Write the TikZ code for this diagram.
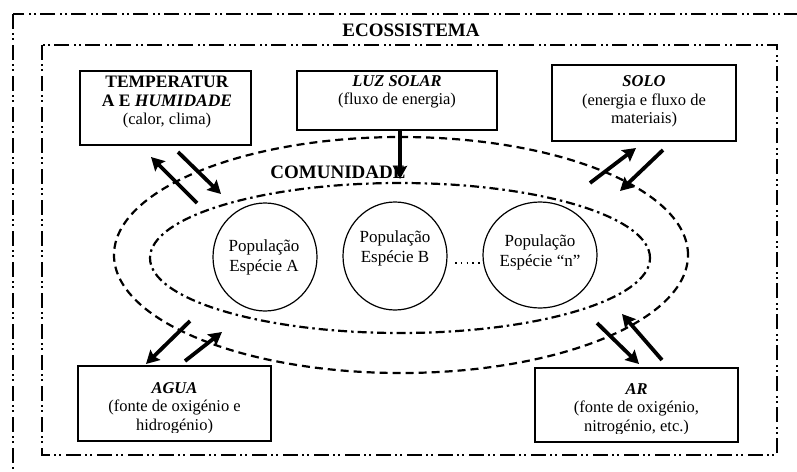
\documentclass[tikz,border=0pt]{standalone}
\usepackage{fontspec}
\setmainfont{Liberation Serif}
\usetikzlibrary{arrows.meta,shapes.geometric}

\tikzset{
  framerule/.style={line width=2.4pt,
    dash pattern=on 15pt off 4pt on 2pt off 3pt on 2pt off 5pt},
  factorbox/.style={draw, line width=1.2pt, rectangle, inner sep=0pt},
  boxtext/.style={align=center, inner sep=0pt,
    font=\fontsize{16.5}{18.5}\selectfont},
  poptext/.style={align=center, inner sep=0pt,
    font=\fontsize{17}{20}\selectfont},
  titletext/.style={inner sep=0pt, font=\fontsize{19}{21}\selectfont\bfseries},
  popshape/.style={draw, ellipse, line width=1.2pt, inner sep=0pt},
  commline/.style={draw, ellipse, inner sep=0pt, line width=2.2pt,
    dash pattern=on 8pt off 5pt},
  popline/.style={draw, ellipse, inner sep=0pt, line width=2.2pt,
    dash pattern=on 9pt off 4pt on 2.5pt off 4pt},
  flow/.style={line width=3.8pt,
    -{Stealth[length=13pt,width=14pt,inset=2pt]}},
}

\begin{document}
\begin{tikzpicture}[x=1pt,y=-1pt]
  \clip (0,0) rectangle (797,471);
  \fill[white] (0,0) rectangle (797,471);

  % ecosystem frames
  \draw[framerule] (13,14) rectangle (830,520);
  \draw[framerule, line width=2.2pt] (42,45) rectangle (777,455);
  \node[titletext] (ecos) at (411,30) {ECOSSISTEMA};

  % community and population ellipses
  \node[commline, minimum width=574pt, minimum height=236pt] (comm) at (401,255) {};
  \node[popline, minimum width=500pt, minimum height=150pt] (pops) at (400,258) {};
  \node[titletext] (commlabel) at (338,172) {COMUNIDADE};

  % populations
  \node[popshape, minimum width=104pt, minimum height=108pt] (popA) at (265,257) {};
  \node[popshape, minimum width=104pt, minimum height=108pt] (popB) at (395,256) {};
  \node[popshape, minimum width=114pt, minimum height=106pt] (popN) at (540,255) {};
  \node[poptext] (txtA) at (264,257) {População\\Espécie A};
  \node[poptext] (txtB) at (395,248) {População\\Espécie B};
  \node[poptext] (txtN) at (540,252) {População\\Espécie “n”};
  \coordinate (dotL) at (455,263);
  \coordinate (dotR) at (483,263);
  \draw[line width=1.4pt, dash pattern=on 1.6pt off 4.2pt] (dotL) -- (dotR);

  % abiotic factors
  \node[factorbox, minimum width=171pt, minimum height=74pt] (temp) at (165.5,108) {};
  \node[boxtext] (temptxt) at (167,102) {\textbf{\fontsize{17.5}{18.5}\selectfont TEMPERATUR}\\\textbf{\fontsize{17.5}{18.5}\selectfont A E \textit{HUMIDADE}}\\(calor, clima)};

  \node[factorbox, minimum width=200pt, minimum height=59pt] (luz) at (397,100.5) {};
  \node[boxtext] (luztxt) at (397,92) {\textbf{\textit{LUZ SOLAR}}\\(fluxo de energia)};

  \node[factorbox, minimum width=184pt, minimum height=76pt] (solo) at (644,103) {};
  \node[boxtext] (solotxt) at (644,101.5) {\textbf{\textit{SOLO}}\\(energia e fluxo de\\materiais)};

  \node[factorbox, minimum width=193pt, minimum height=75pt] (agua) at (174.5,403.5) {};
  \begin{scope}
    \clip (80,368) rectangle (270,432);
    \node[boxtext] (aguatxt) at (174.5,408) {\textbf{\textit{AGUA}}\\(fonte de oxigénio e\\hidrogénio)};
  \end{scope}

  \node[factorbox, minimum width=203pt, minimum height=74pt] (ar) at (636.5,405) {};
  \begin{scope}
    \clip (537,370) rectangle (737,433);
    \node[boxtext] (artxt) at (636.5,409) {\textbf{\textit{AR}}\\(fonte de oxigénio,\\nitrogénio, etc.)};
  \end{scope}

  % exchanges between factors and community
  \coordinate (t1s) at (197,203); \coordinate (t1e) at (151,157);
  \coordinate (t2s) at (178,152); \coordinate (t2e) at (221,194);
  \coordinate (l1s) at (400,130); \coordinate (l1e) at (400,179);
  \coordinate (s1s) at (590,183); \coordinate (s1e) at (636,148);
  \coordinate (s2s) at (663,150); \coordinate (s2e) at (620,191);
  \coordinate (a1s) at (190,321); \coordinate (a1e) at (146,364);
  \coordinate (a2s) at (185,361); \coordinate (a2e) at (222,332);
  \coordinate (r1s) at (597,323); \coordinate (r1e) at (639,364);
  \coordinate (r2s) at (662,360); \coordinate (r2e) at (622,314);

  \draw[flow] (t1s) -- (t1e);
  \draw[flow] (t2s) -- (t2e);
  \draw[flow] (l1s) -- (l1e);
  \draw[flow] (s1s) -- (s1e);
  \draw[flow] (s2s) -- (s2e);
  \draw[flow] (a1s) -- (a1e);
  \draw[flow] (a2s) -- (a2e);
  \draw[flow] (r1s) -- (r1e);
  \draw[flow] (r2s) -- (r2e);
\end{tikzpicture}
\end{document}
